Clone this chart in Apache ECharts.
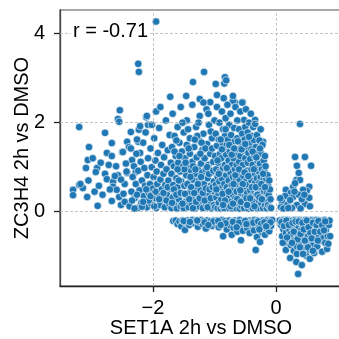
<!DOCTYPE html>
<html>
<head>
<meta charset="utf-8">
<script src="https://cdn.jsdelivr.net/npm/echarts@6/dist/echarts.min.js"></script>
<style>html,body{margin:0;padding:0;background:#fff}#c{width:339px;height:339px}</style>
</head>
<body>
<div id="c"></div>
<script>
// Labels
const xName = 'SET1A 2h vs DMSO';
const yName = 'ZC3H4 2h vs DMSO';
const corrText = 'r = -0.71';
const xTicks = [-2, 0];
const yTicks = [0, 2, 4];

// Main cluster (SET1A down, ZC3H4 up)
const upperOutliers = [[-1.95,4.27],[-2.24,3.32],[-2.23,3.14],[-1.35,2.91],[-1.17,3.14],[-0.98,2.87],[-0.83,3.02],[-0.84,2.88],[-0.81,2.95],[-1.46,2.6],[-1.24,2.53],[-1.72,2.58],[-2.54,2.28],[-2.11,2.12],[-1.07,2.46],[-0.96,2.62],[-0.67,2.46],[-0.7,2.49],[-0.54,2.46],[-0.52,2.06],[-0.34,2.06],[-0.21,1.57]];
const upperLeft = [[-3.2,1.9],[-2.78,1.77],[-3.04,1.45],[-3.06,1.16],[-3.09,0.98],[-2.91,0.98],[-2.93,0.89],[-2.85,1.1],[-2.67,1.54],[-2.75,1.32],[-2.67,1.25],[-2.78,0.85],[-3.2,0.6],[-3.14,0.53],[-3.3,0.49],[-3.3,0.37],[-3.07,0.33],[-2.9,0.13],[-2.67,0.24],[-2.52,0.15],[-2.75,0.73],[-2.65,0.67],[-2.57,0.82],[-2.65,0.56],[-2.59,0.49],[-2.5,1.34],[-2.57,2.08],[-2.55,2.02],[-2.36,1.79],[-2.42,1.57],[-2.49,1.34],[-2.39,1.45],[-2.23,1.84],[-2.1,2.15],[-2.08,1.95],[-2.24,1.57],[-2.21,1.32],[-2.34,1.16],[-2.42,0.87],[-2.28,0.89],[-3.05,0.7],[-2.95,0.45],[-2.82,0.38],[-2.72,1.05],[-2.6,1.02],[-2.55,0.33],[-2.46,0.62],[-2.44,1.08],[-2.48,0.4],[-2.62,0.8],[-2.7,0.5],[-2.52,0.72],[-2.43,0.9],[-2.46,0.22],[-3.18,0.62],[-2.98,1.2],[-2.88,0.58]];
const upperMid = [[-2.38,0.12],[-2.35,0.45],[-2.33,0.78],[-2.31,1.02],[-2.3,0.3],[-2.28,0.62],[-2.27,1.3],[-2.25,0.08],[-2.24,0.92],[-2.22,0.48],[-2.2,1.12],[-2.19,0.2],[-2.18,0.7],[-2.16,1.55],[-2.15,0.35],[-2.14,0.98],[-2.13,0.58],[-2.12,1.78],[-2.1,0.1],[-2.09,0.82],[-2.08,1.2],[-2.07,0.42],[-2.05,0.62],[-2.04,1.42],[-2.03,0.18],[-2.02,1.0],[-2.0,0.52],[-1.99,0.78],[-1.98,1.65],[-1.97,0.3],[-1.96,1.15],[-1.95,0.08],[-1.94,0.9],[-1.93,0.62],[-1.92,1.32],[-1.91,0.4],[-1.9,1.88],[-1.89,0.15],[-1.88,0.72],[-1.87,1.05],[-1.86,0.5],[-1.85,1.5],[-1.84,0.28],[-1.83,0.85],[-1.82,1.22],[-1.81,0.1],[-1.8,0.6],[-1.79,2.05],[-1.78,0.95],[-1.77,0.38],[-1.76,1.38],[-1.75,0.7],[-1.74,0.18],[-1.73,1.72],[-1.72,0.52],[-1.71,1.1],[-2.36,1.42],[-2.26,1.62],[-2.21,1.92],[-2.02,1.95],[-1.95,2.25],[-1.88,2.35],[-2.3,0.07],[-2.18,0.11],[-2.07,0.25],[-1.98,0.12],[-2.34,0.25],[-2.26,0.38],[-2.16,0.22],[-2.11,0.5],[-2.04,0.35],[-1.96,0.45],[-1.9,0.28],[-1.83,0.42],[-1.78,0.25],[-1.76,0.55]];
const upperCore = [[-1.7,0.08],[-1.7,0.85],[-1.69,1.45],[-1.68,0.32],[-1.68,2.2],[-1.67,0.6],[-1.66,1.02],[-1.65,0.15],[-1.65,1.7],[-1.64,0.45],[-1.63,1.25],[-1.62,0.75],[-1.61,0.07],[-1.6,1.9],[-1.6,0.55],[-1.59,1.1],[-1.58,0.28],[-1.57,1.55],[-1.56,0.9],[-1.55,0.12],[-1.55,2.35],[-1.54,0.68],[-1.53,1.35],[-1.52,0.4],[-1.51,1.02],[-1.5,0.08],[-1.5,1.78],[-1.49,0.58],[-1.48,1.2],[-1.47,0.22],[-1.46,0.82],[-1.45,2.05],[-1.45,1.5],[-1.44,0.35],[-1.43,1.0],[-1.42,0.1],[-1.41,0.65],[-1.4,1.65],[-1.4,1.3],[-1.39,0.45],[-1.38,0.92],[-1.37,0.18],[-1.36,2.4],[-1.36,1.12],[-1.35,0.72],[-1.34,0.3],[-1.33,1.45],[-1.32,0.07],[-1.31,0.85],[-1.3,1.9],[-1.3,0.55],[-1.29,1.22],[-1.28,0.38],[-1.27,0.98],[-1.26,0.12],[-1.25,1.6],[-1.25,0.7],[-1.24,2.15],[-1.23,0.48],[-1.22,1.08],[-1.21,0.25],[-1.2,0.88],[-1.2,1.38],[-1.19,0.08],[-1.18,1.75],[-1.17,0.62],[-1.16,1.2],[-1.15,0.35],[-1.14,0.95],[-1.13,2.3],[-1.13,0.15],[-1.12,1.52],[-1.11,0.75],[-1.1,0.42],[-1.1,1.05],[-1.09,1.95],[-1.08,0.22],[-1.07,1.3],[-1.06,0.58],[-1.05,0.07],[-1.05,0.88],[-1.04,1.65],[-1.03,0.32],[-1.02,1.12],[-1.01,0.68],[-1.0,2.05],[-1.0,0.45],[-1.69,0.2],[-1.66,0.5],[-1.62,0.38],[-1.58,0.7],[-1.55,0.42],[-1.52,0.18],[-1.48,0.4],[-1.44,0.62],[-1.41,0.28],[-1.38,0.55],[-1.35,0.08],[-1.33,0.42],[-1.3,0.22],[-1.27,0.62],[-1.24,0.3],[-1.22,0.78],[-1.19,0.42],[-1.16,0.25],[-1.14,0.52],[-1.11,0.1],[-1.08,0.5],[-1.06,0.3],[-1.03,0.55],[-1.01,0.15],[-1.65,1.35],[-1.57,1.25],[-1.49,0.95],[-1.42,1.42],[-1.35,1.02],[-1.28,1.7],[-1.21,1.55],[-1.15,1.42],[-1.09,0.85],[-1.04,1.42],[-1.62,1.6],[-1.52,2.0],[-1.43,1.85],[-1.32,1.62],[-1.26,2.0],[-1.18,2.45],[-1.1,2.2],[-1.06,1.8],[-1.6,0.95],[-1.47,1.1],[-1.39,0.78],[-1.31,0.95],[-1.23,1.3],[-1.12,1.0],[-1.02,0.92]];
const upperRight = [[-0.99,0.1],[-0.99,1.25],[-0.98,0.6],[-0.98,1.75],[-0.97,0.32],[-0.97,0.95],[-0.96,2.35],[-0.96,1.48],[-0.95,0.08],[-0.95,0.78],[-0.94,0.42],[-0.94,1.1],[-0.93,0.2],[-0.93,1.62],[-0.92,0.68],[-0.92,2.0],[-0.91,0.9],[-0.91,1.3],[-0.9,0.07],[-0.9,0.52],[-0.89,1.2],[-0.89,0.28],[-0.88,2.25],[-0.88,0.75],[-0.87,1.55],[-0.87,0.12],[-0.86,0.98],[-0.86,1.85],[-0.85,0.45],[-0.85,1.38],[-0.85,2.55],[-0.84,0.62],[-0.84,0.08],[-0.83,1.05],[-0.83,1.7],[-0.82,0.35],[-0.82,2.1],[-0.81,0.82],[-0.81,1.28],[-0.8,0.18],[-0.8,1.5],[-0.8,0.55],[-0.79,2.4],[-0.79,0.95],[-0.78,0.3],[-0.78,1.62],[-0.77,0.7],[-0.77,1.15],[-0.76,0.08],[-0.76,1.95],[-0.75,0.48],[-0.75,1.35],[-0.74,0.88],[-0.74,2.2],[-0.73,0.22],[-0.73,1.72],[-0.72,0.6],[-0.72,1.05],[-0.71,0.07],[-0.71,1.45],[-0.7,0.38],[-0.7,2.6],[-0.7,0.78],[-0.69,1.2],[-0.69,0.15],[-0.68,1.88],[-0.68,0.52],[-0.67,0.95],[-0.67,1.58],[-0.66,0.3],[-0.66,2.35],[-0.65,0.7],[-0.65,1.3],[-0.65,0.08],[-0.64,1.05],[-0.64,0.45],[-0.63,2.05],[-0.63,1.65],[-0.62,0.18],[-0.62,0.85],[-0.61,1.4],[-0.61,0.6],[-0.6,0.3],[-0.6,1.85],[-0.6,1.12],[-0.59,0.07],[-0.59,0.72],[-0.58,2.25],[-0.58,1.25],[-0.57,0.42],[-0.57,1.55],[-0.56,0.95],[-0.56,0.12],[-0.55,1.75],[-0.55,0.58],[-0.55,2.45],[-0.54,0.25],[-0.54,1.05],[-0.53,1.38],[-0.53,0.8],[-0.52,0.08],[-0.51,0.5],[-0.51,1.62],[-0.5,1.2],[-0.5,0.35],[-0.5,1.9],[-0.49,0.68],[-0.49,2.3],[-0.48,0.15],[-0.48,1.45],[-0.47,0.92],[-0.47,0.42],[-0.46,1.78],[-0.46,1.1],[-0.45,0.07],[-0.45,0.6],[-0.45,1.32],[-0.44,2.0],[-0.44,0.28],[-0.43,0.82],[-0.43,1.55],[-0.42,0.48],[-0.42,1.18],[-0.41,0.1],[-0.41,2.2],[-0.4,0.7],[-0.4,1.4],[-0.4,0.95],[-0.39,0.35],[-0.39,1.7],[-0.38,0.08],[-0.38,1.05],[-0.37,0.58],[-0.37,1.9],[-0.36,1.61],[-0.36,0.22],[-0.35,0.85],[-0.35,1.25],[-0.35,0.45],[-0.34,1.97],[-0.34,0.65],[-0.33,0.12],[-0.33,1.45],[-0.32,0.98],[-0.32,0.38],[-0.31,1.72],[-0.31,0.75],[-0.3,0.07],[-0.3,1.15],[-0.29,0.52],[-0.29,1.35],[-0.28,0.25],[-0.28,0.9],[-0.27,1.6],[-0.27,0.65],[-0.26,0.08],[-0.26,1.08],[-0.25,0.42],[-0.25,1.85],[-0.25,0.78],[-0.24,1.3],[-0.24,0.18],[-0.23,0.95],[-0.23,0.55],[-0.22,1.5],[-0.22,0.32],[-0.21,0.08],[-0.2,0.72],[-0.2,1.15],[-0.19,0.45],[-0.19,0.9],[-0.18,0.15],[-0.18,1.25],[-0.17,0.62],[-0.17,1.02],[-0.16,0.73],[-0.16,0.3],[-0.15,0.44],[-0.15,0.07],[-0.14,0.82],[-0.14,0.22],[-0.13,0.15],[-0.13,0.58],[-0.12,0.38],[-0.11,0.7],[-0.1,0.1],[-0.1,0.5],[-0.09,0.28],[-0.08,0.08],[-0.97,0.5],[-0.93,0.85],[-0.9,1.62],[-0.87,0.4],[-0.83,0.25],[-0.8,0.98],[-0.77,0.45],[-0.74,0.12],[-0.72,1.28],[-0.69,0.62],[-0.66,0.82],[-0.63,0.28],[-0.6,0.95],[-0.57,0.22],[-0.54,0.62],[-0.51,0.88],[-0.48,0.3],[-0.45,0.8],[-0.42,0.3],[-0.39,0.55],[-0.36,0.95],[-0.33,0.55],[-0.3,0.38],[-0.27,0.32],[-0.24,0.62],[-0.21,0.85],[-0.18,0.55],[-0.95,1.15],[-0.88,1.4],[-0.82,1.85],[-0.76,1.5],[-0.68,1.42],[-0.62,1.58],[-0.56,1.4],[-0.5,1.52],[-0.44,1.68],[-0.38,1.35],[-0.32,1.22],[-0.26,1.42],[-0.86,0.15],[-0.7,0.18],[-0.58,0.48],[-0.47,0.15],[-0.35,0.12],[-0.23,0.28]];
// Band just below zero on the left
const lowerBand = [[-1.67,-0.21],[-1.63,-0.2],[-1.6,-0.28],[-1.57,-0.22],[-1.54,-0.33],[-1.52,-0.2],[-1.48,-0.41],[-1.47,-0.24],[-1.44,-0.2],[-1.41,-0.3],[-1.38,-0.22],[-1.36,-0.19],[-1.33,-0.26],[-1.3,-0.2],[-1.27,-0.34],[-1.25,-0.23],[-1.22,-0.19],[-1.19,-0.28],[-1.17,-0.21],[-1.14,-0.38],[-1.12,-0.2],[-1.09,-0.25],[-1.06,-0.21],[-1.04,-0.32],[-1.01,-0.2],[-0.98,-0.27],[-0.96,-0.2],[-0.93,-0.35],[-0.91,-0.23],[-0.88,-0.19],[-0.86,-0.55],[-0.85,-0.29],[-0.83,-0.21],[-0.8,-0.4],[-0.78,-0.24],[-0.76,-0.2],[-0.74,-0.31],[-0.72,-0.52],[-0.71,-0.21],[-0.69,-0.36],[-0.67,-0.2],[-0.65,-0.27],[-0.63,-0.45],[-0.61,-0.22],[-0.59,-0.19],[-0.57,-0.64],[-0.56,-0.3],[-0.54,-0.43],[-0.53,-0.21],[-0.51,-0.26],[-0.49,-0.2],[-0.47,-0.37],[-0.45,-0.23],[-0.43,-0.48],[-0.42,-0.2],[-0.4,-0.3],[-0.38,-0.21],[-0.36,-0.42],[-0.35,-0.19],[-0.33,-0.86],[-0.32,-0.26],[-0.31,-0.57],[-0.3,-0.2],[-0.28,-0.35],[-0.26,-0.68],[-0.25,-0.22],[-0.23,-0.46],[-0.22,-0.2],[-0.2,-0.3],[-0.18,-0.52],[-0.17,-0.21],[-0.15,-0.38],[-0.14,-0.19],[-0.12,-0.25],[-0.11,-0.44],[-0.1,-0.2],[-0.08,-0.32],[-0.07,-0.21],[-0.06,-0.19],[-1.5,-0.21],[-1.4,-0.23],[-1.28,-0.2],[-1.16,-0.24],[-1.02,-0.22],[-0.94,-0.21],[-0.82,-0.26],[-0.7,-0.23],[-0.6,-0.25],[-0.5,-0.21],[-0.44,-0.27],[-0.37,-0.25],[-0.29,-0.22],[-0.24,-0.27],[-0.19,-0.24],[-0.13,-0.3],[-0.09,-0.24],[-0.64,-0.35],[-0.48,-0.28],[-0.27,-0.4],[-0.16,-0.33],[-1.1,-0.3],[-0.9,-0.3]];
// Cluster with SET1A up
const rightUpper = [[0.39,1.97],[0.31,1.23],[0.47,1.23],[0.34,1.03],[0.57,1.03],[0.37,0.87],[0.33,0.71],[0.39,0.71],[0.54,0.56],[0.5,0.47],[0.44,0.49],[0.28,0.56],[0.16,0.49],[0.24,0.42],[0.15,0.35],[0.28,0.33],[0.37,0.38],[0.54,0.31],[0.1,0.22],[0.18,0.15],[0.34,0.15],[0.47,0.17],[0.08,0.1],[0.23,0.26],[0.31,0.64],[0.12,0.07],[0.26,0.08],[0.4,0.07],[0.42,0.28],[0.3,0.45],[0.2,0.08],[0.55,0.12],[0.07,0.3],[0.46,0.38]];
const rightLower = [[0.06,-0.2],[0.08,-0.3],[0.1,-0.21],[0.1,-0.55],[0.12,-0.19],[0.12,-0.4],[0.14,-0.24],[0.14,-0.7],[0.15,-0.2],[0.16,-0.48],[0.16,-0.86],[0.18,-0.3],[0.19,-0.19],[0.2,-0.62],[0.2,-0.22],[0.22,-0.42],[0.23,-1.04],[0.23,-0.2],[0.24,-0.75],[0.25,-0.28],[0.26,-0.55],[0.27,-0.2],[0.28,-0.38],[0.29,-0.88],[0.3,-0.22],[0.3,-0.65],[0.31,-0.19],[0.32,-0.46],[0.33,-1.13],[0.33,-0.3],[0.34,-0.78],[0.35,-0.21],[0.36,-1.4],[0.36,-0.55],[0.37,-0.35],[0.38,-0.19],[0.38,-0.9],[0.39,-0.24],[0.4,-0.68],[0.41,-0.42],[0.42,-1.2],[0.42,-0.2],[0.43,-0.58],[0.44,-0.3],[0.45,-0.8],[0.46,-0.21],[0.47,-0.48],[0.48,-0.19],[0.49,-0.99],[0.49,-0.36],[0.5,-0.7],[0.51,-0.25],[0.52,-0.55],[0.53,-0.2],[0.54,-0.85],[0.55,-1.06],[0.55,-0.4],[0.56,-0.22],[0.57,-0.62],[0.58,-0.19],[0.59,-0.32],[0.6,-0.75],[0.61,-0.5],[0.62,-0.93],[0.62,-0.2],[0.63,-0.28],[0.64,-0.62],[0.65,-0.42],[0.66,-0.19],[0.67,-0.78],[0.68,-0.22],[0.69,-0.52],[0.7,-0.35],[0.71,-0.2],[0.72,-0.65],[0.73,-0.28],[0.74,-0.45],[0.75,-0.9],[0.76,-0.21],[0.77,-0.58],[0.78,-0.3],[0.79,-0.19],[0.8,-0.7],[0.81,-0.42],[0.82,-0.23],[0.83,-0.84],[0.84,-0.55],[0.85,-0.72],[0.86,-0.3],[0.88,-0.55],[0.87,-0.2],[0.09,-0.24],[0.13,-0.32],[0.17,-0.2],[0.21,-0.3],[0.24,-0.5],[0.27,-0.25],[0.29,-0.45],[0.32,-0.22],[0.35,-0.62],[0.37,-0.22],[0.4,-0.5],[0.43,-0.25],[0.45,-0.4],[0.47,-0.65],[0.5,-0.2],[0.53,-0.35],[0.56,-0.48],[0.58,-0.6],[0.6,-0.25],[0.63,-0.45],[0.66,-0.3],[0.69,-0.21],[0.72,-0.45],[0.75,-0.3],[0.78,-0.42],[0.8,-0.22],[0.11,-0.7],[0.18,-0.58],[0.26,-0.7],[0.34,-0.95],[0.39,-0.8],[0.44,-0.95],[0.52,-0.8],[0.6,-0.88],[0.68,-0.65]];

const allPoints = [].concat(upperOutliers, upperLeft, upperMid, upperCore, upperRight, lowerBand, rightUpper, rightLower);

const FONT = '"Liberation Sans", Arial, sans-serif';
const fmt = v => (v < 0 ? '\u2212' + Math.abs(v) : String(v));

const chart = echarts.init(document.getElementById('c'), null, {renderer: 'canvas'});
chart.setOption({
  animation: false,
  backgroundColor: '#fff',
  grid: {left: 60, top: 10, width: 282, height: 276, outerBoundsMode: 'none', containLabel: false, show: true, borderColor: '#555', borderWidth: 1.2, backgroundColor: 'transparent'},
  xAxis: {
    type: 'value', min: -3.512, max: 1.073,
    name: xName, nameLocation: 'middle', nameGap: 32, nameMoveOverlap: false,
    nameTextStyle: {fontFamily: FONT, fontSize: 20, color: '#000'},
    axisLine: {show: true, onZero: false, lineStyle: {color: '#222', width: 1.3}},
    axisTick: {show: true, length: 6, customValues: xTicks, lineStyle: {color: '#222', width: 1.3}},
    axisLabel: {customValues: xTicks, formatter: fmt, fontFamily: FONT, fontSize: 20, color: '#000', margin: 12},
    splitLine: {show: false}
  },
  yAxis: {
    type: 'value', min: -1.67, max: 4.53,
    name: yName, nameLocation: 'middle', nameGap: 28, nameRotate: 90, nameMoveOverlap: false,
    nameTextStyle: {fontFamily: FONT, fontSize: 20, color: '#000'},
    axisLine: {show: true, onZero: false, lineStyle: {color: '#444', width: 1.3}},
    axisTick: {show: true, length: 6, customValues: yTicks, lineStyle: {color: '#222', width: 1.3}},
    axisLabel: {customValues: yTicks, formatter: fmt, fontFamily: FONT, fontSize: 20, color: '#000', margin: 15},
    splitLine: {show: false}
  },
  graphic: [{
    type: 'text', left: 71, top: 21, z: 100,
    style: {text: corrText, font: '20px ' + FONT, fill: '#000', backgroundColor: '#fff', padding: [0, 2, 0, 2]}
  }],
  series: [
    {
      type: 'line', data: [], z: 1, silent: true,
      markLine: {
        silent: true, symbol: 'none', animation: false,
        label: {show: false},
        lineStyle: {type: [3, 2], color: '#b5b5b5', width: 0.8},
        data: xTicks.map(v => ({xAxis: v})).concat(yTicks.map(v => ({yAxis: v})))
      }
    },
    {
      type: 'scatter', data: allPoints, z: 2,
      symbolSize: 7.5,
      itemStyle: {color: '#1f77b4', borderColor: '#fff', borderWidth: 0.6, opacity: 1}
    }
  ]
});
</script>
</body>
</html>
